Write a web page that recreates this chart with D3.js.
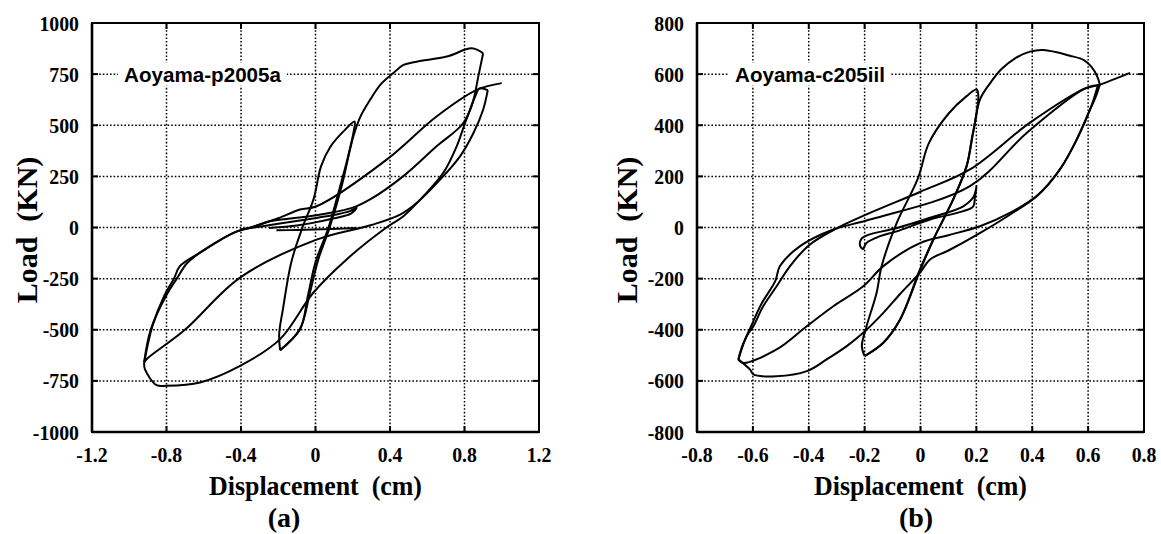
<!DOCTYPE html>
<html><head><meta charset="utf-8">
<script src="https://cdn.jsdelivr.net/npm/d3@7/dist/d3.min.js"></script>
<style>body{margin:0;background:#fff}svg{display:block}</style>
</head><body><svg id="c" width="1161" height="534"></svg>
<script>
// ---------- axis ticks ----------
const xTicksA = [-1.2,-0.8,-0.4,0,0.4,0.8,1.2];
const yTicksA = [1000,750,500,250,0,-250,-500,-750,-1000];
const xTicksB = [-0.8,-0.6,-0.4,-0.2,0,0.2,0.4,0.6,0.8];
const yTicksB = [800,600,400,200,0,-200,-400,-600,-800];
const labelA = "Aoyama-p2005a";
const labelB = "Aoyama-c205iil";
const captionA = "(a)", captionB = "(b)";

// ---------- panel (a) curves: [displacement cm, load KN] ----------
const aFlat = [[-0.21,-14],[-0.1,-12],[0.05,-8],[0.22,-2]];
const aTip = [[-0.405,-10],[-0.2,18],[0.006,47],[0.12,65],[0.185,80],[0.221,96],[0.19,68],[0.1,45],[0.0,25],[-0.1,10],[-0.25,-2]];
const aLeaf = [[-0.19,-600],[-0.195,-520],[-0.175,-400],[-0.13,-170],[-0.07,0],[-0.01,140],[0.03,300],[0.08,395],[0.15,470],[0.21,518],[0.205,470],[0.17,330],[0.12,160],[0.07,0],[0.0,-170],[-0.04,-330],[-0.083,-498],[-0.19,-600]];
const aLoad1 = [[-0.19,-600],[-0.083,-495],[-0.03,-319],[0.015,-156],[0.076,0],[0.14,200],[0.185,380],[0.203,445],[0.24,540],[0.293,624],[0.35,700],[0.418,755],[0.472,795],[0.543,811],[0.705,836],[0.839,876],[0.90,852]];
const aUnload1 = [[0.90,852],[0.874,738],[0.848,624],[0.803,511],[0.758,397],[0.686,267],[0.579,153],[0.472,55],[0.39,6],[0.167,-156],[-0.012,-319],[-0.19,-546],[-0.405,-677],[-0.62,-758],[-0.8,-774],[-0.853,-771],[-0.916,-693],[-0.92,-660]];
const aReload1 = [[-0.92,-660],[-0.885,-500],[-0.8,-330],[-0.745,-250],[-0.69,-175],[-0.62,-123],[-0.52,-65],[-0.44,-26],[-0.33,5],[-0.244,31],[0.006,60],[0.2,97],[0.293,137],[0.47,250],[0.65,397],[0.794,511],[0.857,640],[0.88,680],[0.925,672]];
const aUnload2 = [[0.925,672],[0.90,576],[0.848,462],[0.776,348],[0.669,234],[0.543,120],[0.454,63],[0.3,12],[0.006,-59],[-0.405,-245],[-0.701,-500],[-0.907,-644],[-0.92,-660]];
const aReload2 = [[-0.92,-660],[-0.875,-480],[-0.81,-330],[-0.76,-250],[-0.728,-189],[-0.62,-123],[-0.44,-26],[-0.33,5],[-0.2,45],[-0.083,88],[0.006,104],[0.382,332],[0.65,543],[0.866,673],[1.0,706]];

// ---------- panel (b) curves ----------
const bTiny = [[-0.205,-86],[-0.216,-73],[-0.212,-45],[-0.19,-30],[-0.085,-2],[0.034,38],[0.153,83],[0.19,120],[0.201,162],[0.195,120],[0.189,83],[0.153,64],[0.034,31],[-0.085,-15],[-0.145,-34],[-0.193,-60],[-0.205,-86]];
const bLeaf = [[-0.2,-503],[-0.21,-464],[-0.193,-386],[-0.157,-255],[-0.139,-151],[-0.085,18],[-0.01,190],[0.03,330],[0.1,445],[0.165,514],[0.201,540],[0.207,514],[0.201,449],[0.183,344],[0.165,240],[0.117,110],[0.046,-47],[-0.002,-164],[-0.073,-360],[-0.133,-451],[-0.2,-503]];
const bLoad1 = [[-0.2,-503],[-0.133,-451],[-0.073,-360],[-0.002,-170],[0.046,-47],[0.117,110],[0.165,240],[0.19,380],[0.213,501],[0.25,566],[0.29,620],[0.34,663],[0.392,688],[0.44,694],[0.535,672],[0.585,655],[0.612,628],[0.632,592],[0.642,559]];
const bUnload1 = [[0.642,559],[0.625,505],[0.607,462],[0.559,344],[0.499,227],[0.416,122],[0.32,50],[0.2,-30],[0.1,-90],[0.034,-125],[-0.002,-177],[-0.073,-260],[-0.133,-334],[-0.205,-412],[-0.264,-464],[-0.336,-516],[-0.407,-562],[-0.515,-582],[-0.598,-575],[-0.61,-556],[-0.652,-516]];
const bReload1 = [[-0.652,-516],[-0.622,-425],[-0.598,-386],[-0.563,-308],[-0.515,-230],[-0.467,-151],[-0.4,-70],[-0.312,-10],[-0.181,57],[0.0,140],[0.177,227],[0.392,410],[0.595,547],[0.635,556]];
const bUnload2 = [[0.635,556],[0.61,470],[0.562,350],[0.502,232],[0.42,127],[0.32,57],[0.213,5],[0.1,-30],[0.0,-60],[-0.133,-151],[-0.205,-230],[-0.312,-308],[-0.407,-386],[-0.515,-477],[-0.634,-530],[-0.652,-518]];
const bReload2 = [[-0.652,-518],[-0.64,-470],[-0.61,-395],[-0.57,-300],[-0.52,-210],[-0.503,-151],[-0.431,-73],[-0.312,-8],[-0.181,31],[0.177,162],[0.38,370],[0.583,540],[0.642,559],[0.75,605]];

const curvesA = [aFlat,aTip,aLeaf,aLoad1,aUnload1,aReload1,aUnload2,aReload2];
const curvesB = [bTiny,bLeaf,bLoad1,bUnload1,bReload1,bUnload2,bReload2];

const svg = d3.select("#c");
const serif = "'Liberation Serif','Times New Roman',serif";
const sans = "'Liberation Sans',Arial,sans-serif";

function panel(o){
  const x = d3.scaleLinear().domain(o.xd).range([o.x0,o.x1]);
  const y = d3.scaleLinear().domain(o.yd).range([o.y1,o.y0]);
  const g = svg.append("g");
  const xi = o.xt.slice(1,-1), yi = o.yt.slice(1,-1);
  // dotted grid
  g.selectAll(".gx").data(xi).join("line")
    .attr("x1",d=>x(d)).attr("x2",d=>x(d)).attr("y1",o.y0).attr("y2",o.y1)
    .attr("stroke","#000").attr("stroke-width",1.5).attr("stroke-dasharray","1.6,2.0");
  g.selectAll(".gy").data(yi).join("line")
    .attr("y1",d=>y(d)).attr("y2",d=>y(d)).attr("x1",o.x0).attr("x2",o.x1)
    .attr("stroke","#000").attr("stroke-width",1.5).attr("stroke-dasharray","1.6,2.0");
  // inward tick marks on all four sides
  const tl = 6;
  xi.forEach(d=>{
    g.append("line").attr("x1",x(d)).attr("x2",x(d)).attr("y1",o.y1).attr("y2",o.y1-tl).attr("stroke","#000").attr("stroke-width",2);
    g.append("line").attr("x1",x(d)).attr("x2",x(d)).attr("y1",o.y0).attr("y2",o.y0+tl).attr("stroke","#000").attr("stroke-width",2);
  });
  yi.forEach(d=>{
    g.append("line").attr("y1",y(d)).attr("y2",y(d)).attr("x1",o.x0).attr("x2",o.x0+tl).attr("stroke","#000").attr("stroke-width",2);
    g.append("line").attr("y1",y(d)).attr("y2",y(d)).attr("x1",o.x1).attr("x2",o.x1-tl).attr("stroke","#000").attr("stroke-width",2);
  });
  // frame
  g.append("rect").attr("x",o.x0).attr("y",o.y0).attr("width",o.x1-o.x0).attr("height",o.y1-o.y0)
    .attr("fill","none").attr("stroke","#000").attr("stroke-width",2);
  g.append("line").attr("x1",o.x0).attr("x2",o.x0).attr("y1",o.y0).attr("y2",o.y1).attr("stroke","#000").attr("stroke-width",2.6);
  g.append("line").attr("x1",o.x0).attr("x2",o.x1).attr("y1",o.y1).attr("y2",o.y1).attr("stroke","#000").attr("stroke-width",2.6);
  // specimen label with white box over the grid line
  const lx = o.x0 + o.labOff;
  const ly = y(o.labY);
  const lt = g.append("text").attr("x",lx).attr("y",ly+7.5).attr("font-family",sans).attr("font-weight","bold")
    .attr("font-size",21).attr("textLength",o.labW).attr("lengthAdjust","spacingAndGlyphs").text(o.label);
  const bb = lt.node().getBBox();
  g.insert("rect","text").attr("x",lx-6).attr("y",bb.y).attr("width",o.labW+12).attr("height",bb.height).attr("fill","#fff");
  lt.raise();
  // hysteresis curves
  const line = d3.line().x(d=>x(d[0])).y(d=>y(d[1])).curve(d3.curveCatmullRom.alpha(0.5));
  g.selectAll(".cv").data(o.curves).join("path").attr("d",line)
    .attr("fill","none").attr("stroke","#000").attr("stroke-width",2).attr("stroke-linejoin","round");
  // tick labels (condensed bold serif)
  g.selectAll(".xl").data(o.xt).join("text")
    .attr("transform",d=>`translate(${x(d)},${o.y1+30}) scale(0.9,1)`)
    .attr("text-anchor","middle").attr("font-family",serif).attr("font-weight","bold").attr("font-size",22)
    .text(d=>d===0?"0":d3.format(".1f")(d).replace("−","-"));
  g.selectAll(".yl").data(o.yt).join("text")
    .attr("transform",d=>`translate(${o.x0-13},${y(d)+7.5}) scale(0.9,1)`)
    .attr("text-anchor","end").attr("font-family",serif).attr("font-weight","bold").attr("font-size",22)
    .text(d=>String(d));
  // axis titles
  const cx = (o.x0+o.x1)/2;
  g.append("text").attr("x",cx).attr("y",495).attr("text-anchor","middle").attr("font-family",serif)
    .attr("font-weight","bold").attr("font-size",27).attr("textLength",213).attr("lengthAdjust","spacingAndGlyphs")
    .style("white-space","pre").text("Displacement  (cm)");
  g.append("text").attr("transform",`translate(${o.x0-o.ytOff},230) rotate(-90)`).attr("text-anchor","middle")
    .attr("font-family",serif).attr("font-weight","bold").attr("font-size",30).style("white-space","pre").text("Load  (KN)");
  g.append("text").attr("x",o.capX).attr("y",527).attr("text-anchor","middle").attr("font-family",serif)
    .attr("font-weight","bold").attr("font-size",28).text(o.caption);
}

panel({x0:92,x1:539,y0:23,y1:432,xd:[-1.2,1.2],yd:[-1000,1000],xt:xTicksA,yt:yTicksA,
  label:labelA,labY:750,labOff:32,labW:157,curves:curvesA,ytOff:55,capX:284,caption:captionA});
panel({x0:697,x1:1144,y0:23,y1:432,xd:[-0.8,0.8],yd:[-800,800],xt:xTicksB,yt:yTicksB,
  label:labelB,labY:600,labOff:38,labW:150,curves:curvesB,ytOff:60,capX:916,caption:captionB});
</script></body></html>
